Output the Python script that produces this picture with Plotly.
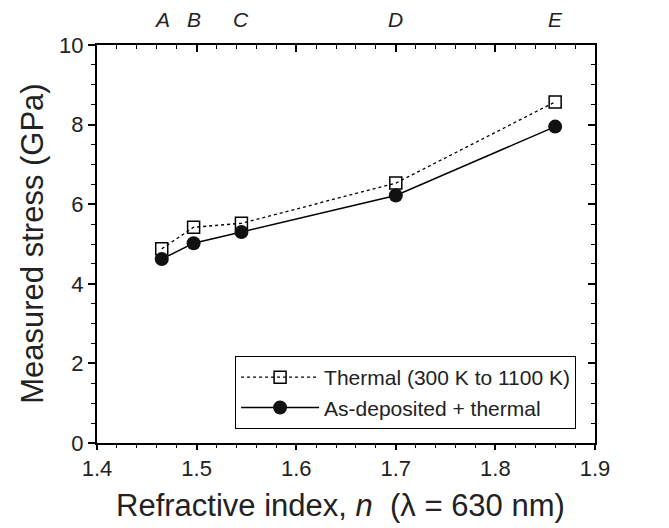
import plotly.graph_objects as go

# sample labels and refractive index
samples = ["A", "B", "C", "D", "E"]
n_index = [1.465, 1.497, 1.545, 1.700, 1.860]

# measured stress (GPa)
thermal = [4.88, 5.42, 5.52, 6.53, 8.57]
as_dep = [4.62, 5.02, 5.30, 6.22, 7.95]

font_fam = "Liberation Sans, Arial, sans-serif"
txt = "#222222"

fig = go.Figure()
fig.add_trace(go.Scatter(
    x=n_index, y=thermal, mode="lines+markers",
    name="Thermal (300 K to 1100 K)",
    line=dict(color="black", width=1.3, dash="dot"),
    marker=dict(symbol="square-open", size=12, color="black", line=dict(width=1.5))))
fig.add_trace(go.Scatter(
    x=n_index, y=as_dep, mode="lines+markers",
    name="As-deposited + thermal",
    line=dict(color="black", width=1.5),
    marker=dict(symbol="circle", size=14, color="#111111")))

# dummy trace so the mirrored top/right axes get drawn
fig.add_trace(go.Scatter(x=[None], y=[None], xaxis="x2", yaxis="y2", showlegend=False))

tickfont = dict(family=font_fam, size=22, color=txt)

fig.update_layout(
    width=669, height=528,
    margin=dict(l=89, r=82, t=37, b=93),
    plot_bgcolor="white", paper_bgcolor="white",
    font=dict(family=font_fam, color=txt),
    xaxis=dict(range=[1.4, 1.9], dtick=0.1, tickformat=".1f", automargin=False,
               showline=True, linecolor="black", linewidth=2,
               ticks="outside", ticklen=5, tickwidth=1.5, tickcolor="black",
               minor=dict(dtick=0.02, ticks="outside", ticklen=3, tickcolor="black", tickwidth=1.2),
               showgrid=False, zeroline=False, tickfont=tickfont),
    yaxis=dict(range=[0, 10], dtick=2, automargin=False,
               showline=True, linecolor="black", linewidth=2,
               ticks="outside", ticklen=7, tickwidth=1.5, tickcolor="black",
               minor=dict(dtick=0.5, ticks="outside", ticklen=4, tickcolor="black", tickwidth=1.2),
               showgrid=False, zeroline=False, tickfont=tickfont),
    xaxis2=dict(range=[1.4, 1.9], dtick=0.1, overlaying="x", side="top", automargin=False,
                showline=True, linecolor="black", linewidth=2,
                ticks="inside", ticklen=7, tickwidth=1.5, tickcolor="black",
                minor=dict(dtick=0.02, ticks="inside", ticklen=4, tickcolor="black", tickwidth=1.2),
                showticklabels=False, showgrid=False, zeroline=False),
    yaxis2=dict(range=[0, 10], dtick=2, overlaying="y", side="right", automargin=False,
                showline=True, linecolor="black", linewidth=2,
                ticks="inside", ticklen=7, tickwidth=1.5, tickcolor="black",
                minor=dict(dtick=0.5, ticks="inside", ticklen=4, tickcolor="black", tickwidth=1.2),
                showticklabels=False, showgrid=False, zeroline=False),
    legend=dict(x=0.962, y=0.035, xanchor="right", yanchor="bottom",
                bordercolor="black", borderwidth=1, bgcolor="white",
                font=dict(size=21, family=font_fam, color=txt),
                tracegroupgap=0, itemwidth=78),
    showlegend=True,
)

# axis titles
fig.add_annotation(x=0.488, y=-0.156, xref="paper", yref="paper", yanchor="middle",
                   text="Refractive index, <i>n</i>  (λ = 630 nm)", showarrow=False,
                   font=dict(size=31, family=font_fam, color=txt))
fig.add_annotation(x=-0.131, y=0.5, xref="paper", yref="paper", textangle=-90,
                   xanchor="center", yanchor="middle",
                   text="Measured stress (GPa)", showarrow=False,
                   font=dict(size=31, family=font_fam, color=txt))

# sample letters along the top
for s, xv in zip(samples, n_index):
    fig.add_annotation(x=xv, y=1.0, xref="x", yref="paper", yshift=12,
                       text="<i>%s</i>" % s, showarrow=False, yanchor="bottom",
                       font=dict(size=21, family=font_fam, color=txt))

fig.write_html("out.html")
